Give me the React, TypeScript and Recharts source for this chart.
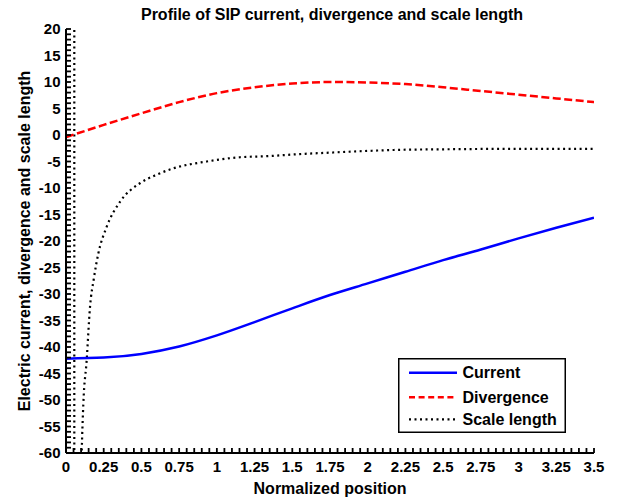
import React from 'react';
import { LineChart, Line, XAxis, YAxis } from 'recharts';

// ---- data ----
const positions = [0, 0.25, 0.5, 0.75, 1, 1.25, 1.5, 1.75, 2, 2.25, 2.5, 2.75, 3, 3.25, 3.5];
const currentValues = [-42.2, -42.0, -41.3, -39.9, -37.8, -35.3, -32.7, -30.2, -28.0, -25.8, -23.6, -21.6, -19.5, -17.5, -15.6];
const divergenceValues = [-0.4, 1.9, 4.1, 6.2, 7.9, 9.0, 9.7, 10.0, 9.9, 9.6, 9.0, 8.3, 7.6, 6.9, 6.2];

const scaleLengthPositions = [0.095, 0.104, 0.115, 0.137, 0.159, 0.185, 0.214, 0.27, 0.358, 0.49, 0.6, 0.711, 0.933, 1.153, 1.33, 1.55, 1.77, 2.0, 2.21, 2.5, 3.0, 3.5];
const scaleLengthValues = [-72, -60, -50.7, -42.5, -32.5, -27, -22.4, -17.3, -12.6, -9.1, -7.5, -6.3, -5.0, -4.2, -4.0, -3.6, -3.3, -3.0, -2.8, -2.7, -2.6, -2.6];
const scalePolePositions = [0.055, 0.055];
const scalePoleValues = [25, -70];

const xMajorTicks = [0, 0.25, 0.5, 0.75, 1, 1.25, 1.5, 1.75, 2, 2.25, 2.5, 2.75, 3, 3.25, 3.5];
const xTickLabels = ['0', '0.25', '0.5', '0.75', '1', '1.25', '1.5', '1.75', '2', '2.25', '2.5', '2.75', '3', '3.25', '3.5'];
const yMajorTicks = [20, 15, 10, 5, 0, -5, -10, -15, -20, -25, -30, -35, -40, -45, -50, -55, -60];
const yTickLabels = ['20', '15', '10', '5', '0', '-5', '-10', '-15', '-20', '-25', '-30', '-35', '-40', '-45', '-50', '-55', '-60'];

const seriesNames = ['Current', 'Divergence', 'Scale length'];
const titleText = 'Profile of SIP current, divergence and scale length';
const xLabelText = 'Normalized position';
const yLabelText = 'Electric current, divergence and scale length';

// ---- build tables ----
const currentData = positions.map((x, i) => ({ x, y: currentValues[i] }));
const divergenceData = positions.map((x, i) => ({ x, y: divergenceValues[i] }));
const scaleData = scaleLengthPositions.map((x, i) => ({ x, y: scaleLengthValues[i] }));
const poleData = scalePolePositions.map((x, i) => ({ x, y: scalePoleValues[i] }));

const xMinorTicks = Array.from({ length: 71 }, (_, i) => Math.round(i * 5) / 100);
const yMinorTicks = Array.from({ length: 81 }, (_, i) => 20 - i);

const FONT = "'Liberation Sans', Arial, Helvetica, sans-serif";
const tickFont: React.CSSProperties = { fontFamily: FONT, fontWeight: 700, fontSize: 15, fill: '#000' };
const M = 20;
const TS = -5; // inward tick length

const findIdx = (arr: number[], v: number) => arr.findIndex((t) => Math.abs(t - v) < 1e-6);

const BottomLabel = (props: any) => {
  const { x, y, payload } = props;
  const idx = findIdx(xMajorTicks, payload.value);
  if (idx < 0) return <g />;
  const ay = y - M - TS;
  return (
    <text x={x} y={ay + 18.5} textAnchor="middle" style={tickFont}>
      {xTickLabels[idx]}
    </text>
  );
};

const LeftLabel = (props: any) => {
  const { x, y, payload } = props;
  const idx = findIdx(yMajorTicks, payload.value);
  if (idx < 0) return <g />;
  const ax = x + M + TS;
  return (
    <text x={ax - 5.5} y={y} dy="0.36em" textAnchor="end" style={tickFont}>
      {yTickLabels[idx]}
    </text>
  );
};

const legendItems = [
  { name: seriesNames[0], color: '#0000ff', dash: undefined as string | undefined, width: 2.5 },
  { name: seriesNames[1], color: '#ff0000', dash: '6 3.6', width: 2.5 },
  { name: seriesNames[2], color: '#000000', dash: '2 3.5', width: 2.2 },
];

const LegendBox = () => (
  <svg width={168} height={75} style={{ display: 'block' }}>
    <rect x={0.75} y={0.75} width={166.5} height={73.5} fill="#fff" stroke="#000" strokeWidth={1.5} />
    {legendItems.map((it, i) => {
      const cy = [14.7, 39.3, 61.3][i];
      return (
        <g key={it.name}>
          <line x1={11} x2={59} y1={cy} y2={cy} stroke={it.color} strokeWidth={it.width} strokeDasharray={it.dash} />
          <text x={64.5} y={cy} dy="0.36em" style={{ fontFamily: FONT, fontWeight: 700, fontSize: 16, fill: '#000' }}>
            {it.name}
          </text>
        </g>
      );
    })}
  </svg>
);

const axisLine = { stroke: '#000', strokeWidth: 2 };
const tickLine = { stroke: '#000', strokeWidth: 1.8 };

export default function App() {
  return (
    <div style={{ position: 'relative', width: 609, height: 493 }}>
      <LineChart width={609} height={493} margin={{ top: 21, right: 23, left: 0, bottom: 0 }}>
        <XAxis
          xAxisId="b"
          dataKey="x"
          type="number"
          domain={[0, 3.5]}
          allowDataOverflow
          ticks={xMinorTicks}
          interval={0}
          tickSize={TS}
          tickMargin={M}
          tick={<BottomLabel />}
          tickLine={tickLine}
          axisLine={axisLine}
          height={48}
        />
        <XAxis
          xAxisId="t"
          orientation="top"
          dataKey="x"
          type="number"
          domain={[0, 3.5]}
          allowDataOverflow
          ticks={xMinorTicks}
          interval={0}
          tickSize={TS}
          tick={false}
          tickLine={tickLine}
          axisLine={axisLine}
          height={0}
        />
        <YAxis
          yAxisId="l"
          type="number"
          domain={[-60, 20]}
          allowDataOverflow
          ticks={yMinorTicks}
          interval={0}
          tickSize={TS}
          tickMargin={M}
          tick={<LeftLabel />}
          tickLine={tickLine}
          axisLine={axisLine}
          width={58}
        />
        <YAxis
          yAxisId="r"
          orientation="right"
          type="number"
          domain={[-60, 20]}
          allowDataOverflow
          ticks={yMinorTicks}
          interval={0}
          tickSize={TS}
          tick={false}
          tickLine={tickLine}
          axisLine={axisLine}
          width={0}
        />
        <Line xAxisId="t" yAxisId="r" data={poleData} dataKey="y" type="linear" stroke="#000" strokeWidth={2.2} strokeDasharray="2 3.5" dot={false} legendType="none" isAnimationActive={false} />
        <Line xAxisId="b" yAxisId="l" data={scaleData} dataKey="y" name={seriesNames[2]} type="monotone" stroke="#000" strokeWidth={2.2} strokeDasharray="2 3.5" dot={false} isAnimationActive={false} />
        <Line xAxisId="b" yAxisId="l" data={divergenceData} dataKey="y" name={seriesNames[1]} type="monotone" stroke="#ff0000" strokeWidth={2.5} strokeDasharray="8 3.5" dot={false} isAnimationActive={false} />
        <Line xAxisId="b" yAxisId="l" data={currentData} dataKey="y" name={seriesNames[0]} type="monotone" stroke="#0000ff" strokeWidth={2.5} dot={false} isAnimationActive={false} />
      </LineChart>
      <div style={{ position: 'absolute', left: 390, top: 350, width: 168, height: 75 }}>
        <LegendBox />
      </div>
      <svg width={617} height={501} style={{ position: 'absolute', left: -8, top: -8, pointerEvents: 'none', overflow: 'visible' }}>
        <text x={332} y={19.5} textAnchor="middle" style={{ fontFamily: FONT, fontWeight: 700, fontSize: 16, fill: '#000' }}>
          {titleText}
        </text>
        <text x={330} y={494} textAnchor="middle" style={{ fontFamily: FONT, fontWeight: 700, fontSize: 16, fill: '#000' }}>
          {xLabelText}
        </text>
        <text x={0} y={0} transform="translate(24 241) rotate(-90)" textAnchor="middle" dy="0.36em" style={{ fontFamily: FONT, fontWeight: 700, fontSize: 16, fill: '#000' }}>
          {yLabelText}
        </text>
      </svg>
    </div>
  );
}
